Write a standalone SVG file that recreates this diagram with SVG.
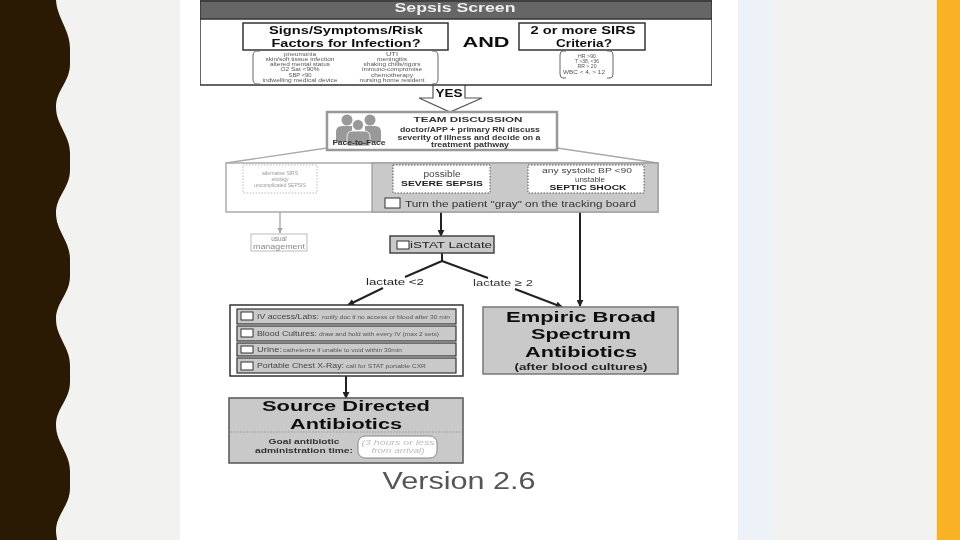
<svg xmlns="http://www.w3.org/2000/svg" width="960" height="540" viewBox="0 0 960 540">
<style>
text{font-family:"Liberation Sans",Arial,sans-serif;text-anchor:middle;fill:#111}
.b{font-weight:700}
.l{text-anchor:start}
.box{fill:#fff;stroke:#333;stroke-width:1.5}
.gbox{fill:#c9c9c9;stroke:#555;stroke-width:1.5}
.dot{fill:#fff;stroke:#888;stroke-width:1;stroke-dasharray:1.5 1.5}
.chk{fill:#fff;stroke:#333;stroke-width:1}
.row{fill:#c9c9c9;stroke:#333;stroke-width:1.2}
.faint{fill:#999}
.small{fill:#555;font-size:5.5px}
.k{fill:none;stroke:#222;stroke-width:2}
.g{fill:none;stroke:#aaa;stroke-width:1.4}
.p{fill:#999}
</style>
<defs>
<filter id="soft" x="0" y="0" width="1" height="1"><feGaussianBlur stdDeviation="0.5"/></filter>
<marker id="ak" viewBox="0 0 8 8" refX="7" refY="4" markerWidth="3.500" markerHeight="3.500" orient="auto"><path d="M0 0L8 4L0 8z" fill="#222"/></marker>
<marker id="ag" viewBox="0 0 8 8" refX="7" refY="4" markerWidth="4" markerHeight="4" orient="auto"><path d="M0 0L8 4L0 8z" fill="#aaa"/></marker>
</defs>

<g id="background">
<rect width="960" height="540" fill="#f2f2f0"/>
<rect x="180" width="558" height="540" fill="#fff"/>
<rect x="738" width="35" height="540" fill="#edf1f8"/>
<rect x="936" width="2" height="540" fill="#f8e6b0"/>
<rect x="937" width="23" height="540" fill="#f9b224"/>
<path fill="#2b1a03" d="M0 0H56C57 18 70 30 70 48V64C70 82 56 90 56 107C56 125 70 135 70 153V170C70 188 56 196 56 213C56 231 70 241 70 259V276C70 294 56 302 56 319C56 337 70 347 70 365V382C70 400 56 408 56 425C56 443 70 453 70 471V488C70 506 56 514 56 531C56 535 57 538 57 540H0Z"/>
</g>

<g filter="url(#soft)">
<g id="connectors">
<path class="g" d="M327 148L226 163M557 148L658 163"/>
<path class="g" d="M441 193V212M580 193V212"/>
<path class="g" d="M280 193V233" marker-end="url(#ag)"/>
<path class="k" d="M441 212V236" marker-end="url(#ak)"/>
<path class="k" d="M580 212V306" marker-end="url(#ak)"/>
<path class="k" d="M442 253V261L405 277M442 261L488 278"/>
<path class="k" d="M383 288L348 305" marker-end="url(#ak)"/>
<path class="k" d="M515 289L562 307" marker-end="url(#ak)"/>
<path class="k" d="M346 376V398" marker-end="url(#ak)"/>
<path d="M433 85V98H419L450 112L482 98H465V85" fill="#fff" stroke="#555" stroke-width="1.2"/>
</g>

<g id="sepsis-screen">
<rect x="200" y="1" width="512" height="84" class="box"/>
<rect x="200" y="1" width="512" height="18" fill="#666" stroke="#333" stroke-width="1.5"/>
<text x="455" y="11.500" class="b" font-size="13" style="fill:#eee" textLength="121" lengthAdjust="spacingAndGlyphs">Sepsis Screen</text>
</g>
<g id="signs">
<rect x="243" y="23" width="205" height="27" class="box"/>
<text x="346" y="33.500" class="b" font-size="11" textLength="154" lengthAdjust="spacingAndGlyphs">Signs/Symptoms/Risk</text>
<text x="346" y="46.500" class="b" font-size="11" textLength="149" lengthAdjust="spacingAndGlyphs">Factors for Infection?</text>
<path d="M260 51H257Q253 51 253 56V79Q253 84 257 84H260M432 51H434Q438 51 438 56V79Q438 84 434 84H432" fill="none" stroke="#666"/>
<text class="small" x="300" y="55.500" textLength="32" lengthAdjust="spacingAndGlyphs">pneumonia</text>
<text class="small" x="300" y="61" textLength="69" lengthAdjust="spacingAndGlyphs">skin/soft tissue infection</text>
<text class="small" x="300" y="66" textLength="60" lengthAdjust="spacingAndGlyphs">altered mental status</text>
<text class="small" x="300" y="71" textLength="39" lengthAdjust="spacingAndGlyphs">O2 Sat &lt;90%</text>
<text class="small" x="300" y="77" textLength="23" lengthAdjust="spacingAndGlyphs">SBP &lt;90</text>
<text class="small" x="300" y="82" textLength="75" lengthAdjust="spacingAndGlyphs">indwelling medical device</text>
<text class="small" x="392" y="55.500" textLength="12" lengthAdjust="spacingAndGlyphs">UTI</text>
<text class="small" x="392" y="61" textLength="30" lengthAdjust="spacingAndGlyphs">meningitis</text>
<text class="small" x="392" y="66" textLength="57" lengthAdjust="spacingAndGlyphs">shaking chills/rigors</text>
<text class="small" x="392" y="71" textLength="60" lengthAdjust="spacingAndGlyphs">immuno-compromise</text>
<text class="small" x="392" y="77" textLength="42" lengthAdjust="spacingAndGlyphs">chemotherapy</text>
<text class="small" x="392" y="82" textLength="65" lengthAdjust="spacingAndGlyphs">nursing home resident</text>
</g>
<g id="and"><text x="486" y="47" class="b" font-size="15" textLength="47" lengthAdjust="spacingAndGlyphs">AND</text></g>
<g id="sirs">
<rect x="519" y="23" width="126" height="27" class="box"/>
<text x="583" y="33.500" class="b" font-size="11" textLength="105" lengthAdjust="spacingAndGlyphs">2 or more SIRS</text>
<text x="584" y="46.500" class="b" font-size="11" textLength="56" lengthAdjust="spacingAndGlyphs">Criteria?</text>
<path d="M566 51H563Q560 51 560 55V74Q560 78 563 78H566M607 51H610Q613 51 613 55V74Q613 78 610 78H607" fill="none" stroke="#666"/>
<text class="small" x="587" y="57.500" font-size="5" textLength="18" lengthAdjust="spacingAndGlyphs">HR &gt;90</text>
<text class="small" x="587" y="62.500" textLength="24" lengthAdjust="spacingAndGlyphs">T &gt;38, &lt;36</text>
<text class="small" x="587" y="68" textLength="19" lengthAdjust="spacingAndGlyphs">RR &gt; 20</text>
<text class="small" x="584" y="73.500" textLength="42" lengthAdjust="spacingAndGlyphs">WBC &lt; 4, &gt; 12</text>
</g>
<g id="yes"><text x="449" y="96.500" class="b" font-size="10" textLength="27" lengthAdjust="spacingAndGlyphs">YES</text></g>

<g id="team-discussion">
<rect x="327" y="112" width="230" height="38" fill="#fff" stroke="#999" stroke-width="2.500"/>
<circle class="p" cx="347" cy="120" r="5.500"/><circle class="p" cx="370" cy="120" r="5.500"/>
<path class="p" d="M336 142V132Q336 126 342 126H352V142ZM381 142V132Q381 126 375 126H365V142Z"/>
<circle cx="358" cy="125" r="5.500" class="p" stroke="#fff" stroke-width=".8"/>
<path class="p" d="M347 146V137Q347 131 353 131H364Q370 131 370 137V146Z" stroke="#fff" stroke-width=".8"/>
<text x="359" y="145" class="b" font-size="6.500" style="fill:#333" textLength="53" lengthAdjust="spacingAndGlyphs">Face-to-Face</text>
<text x="468" y="122" class="b" font-size="8" style="fill:#333" textLength="109" lengthAdjust="spacingAndGlyphs">TEAM DISCUSSION</text>
<text x="470" y="131.500" class="b" font-size="6.500" style="fill:#333" textLength="140" lengthAdjust="spacingAndGlyphs">doctor/APP + primary RN discuss</text>
<text x="469" y="139.500" class="b" font-size="6.500" style="fill:#333" textLength="143" lengthAdjust="spacingAndGlyphs">severity of illness and decide on a</text>
<text x="470" y="146.500" class="b" font-size="6.500" style="fill:#333" textLength="78" lengthAdjust="spacingAndGlyphs">treatment pathway</text>
</g>

<g id="pathway-panel">
<rect x="226" y="163" width="432" height="49" fill="#fff" stroke="#aaa" stroke-width="1.500"/>
<rect x="372" y="163" width="286" height="49" fill="#c9c9c9" stroke="#999" stroke-width="1.200"/>
</g>
<g id="alt-sirs">
<rect x="243" y="165" width="74" height="28" class="dot" style="stroke:#bbb"/>
<text class="faint" x="280" y="175" font-size="5">alternative SIRS</text>
<text class="faint" x="280" y="181" font-size="5">etiology</text>
<text class="faint" x="280" y="187" font-size="5">uncomplicated SEPSIS</text>
</g>
<g id="severe-sepsis">
<rect x="393" y="165" width="97" height="28" class="dot" style="stroke:#555"/>
<text x="442" y="177" font-size="8.500" style="fill:#444" textLength="37" lengthAdjust="spacingAndGlyphs">possible</text>
<text x="442" y="186" class="b" font-size="8" style="fill:#222" textLength="82" lengthAdjust="spacingAndGlyphs">SEVERE SEPSIS</text>
</g>
<g id="septic-shock">
<rect x="528" y="165" width="116" height="28" class="dot" style="stroke:#555"/>
<text x="587" y="173" font-size="8" style="fill:#444" textLength="90" lengthAdjust="spacingAndGlyphs">any systolic BP &lt;90</text>
<text x="590" y="182" font-size="8" style="fill:#444" textLength="30" lengthAdjust="spacingAndGlyphs">unstable</text>
<text x="588" y="190" class="b" font-size="8" style="fill:#222" textLength="77" lengthAdjust="spacingAndGlyphs">SEPTIC SHOCK</text>
</g>
<g id="turn-gray">
<rect x="385" y="198" width="15" height="10" class="chk"/>
<text x="405" y="207" class="l" font-size="9.500" style="fill:#333" textLength="231" lengthAdjust="spacingAndGlyphs">Turn the patient "gray" on the tracking board</text>
</g>

<g id="usual-management">
<rect x="251" y="234" width="56" height="17" fill="#fff" stroke="#bbb"/>
<text class="faint" x="279" y="241" font-size="6.500" style="fill:#888">usual</text>
<text class="faint" x="279" y="249" font-size="6.500" style="fill:#888" textLength="52" lengthAdjust="spacingAndGlyphs">management</text>
</g>
<g id="istat-lactate">
<rect x="390" y="236" width="104" height="17" class="gbox" style="stroke:#444"/>
<rect x="397" y="241" width="12" height="8" class="chk"/>
<text x="410" y="247.500" class="l" font-size="9.500" style="fill:#222" textLength="82" lengthAdjust="spacingAndGlyphs">iSTAT Lactate</text>
</g>
<g id="lactate-labels">
<text x="395" y="285" font-size="9" style="fill:#222" textLength="58" lengthAdjust="spacingAndGlyphs">lactate &lt;2</text>
<text x="503" y="286" font-size="9" style="fill:#333" textLength="60" lengthAdjust="spacingAndGlyphs">lactate ≥ 2</text>
</g>

<g id="workup">
<rect x="230" y="305" width="233" height="71" class="box"/>
<rect x="237" y="309" width="219" height="15" class="row"/>
<rect x="237" y="326" width="219" height="15" class="row"/>
<rect x="237" y="343" width="219" height="13" class="row"/>
<rect x="237" y="358" width="219" height="15" class="row"/>
<rect x="241" y="312" width="12" height="8" class="chk"/>
<rect x="241" y="329" width="12" height="8" class="chk"/>
<rect x="241" y="346" width="12" height="7" class="chk"/>
<rect x="241" y="362" width="12" height="8" class="chk"/>
<text x="257" y="319" class="l" font-size="6.500" style="fill:#444" textLength="62" lengthAdjust="spacingAndGlyphs">IV access/Labs:</text>
<text x="322" y="319" class="l" font-size="4.500" style="fill:#555" textLength="128" lengthAdjust="spacingAndGlyphs">notify doc if no access or blood after 30 min</text>
<text x="257" y="336" class="l" font-size="6.500" style="fill:#444" textLength="60" lengthAdjust="spacingAndGlyphs">Blood Cultures:</text>
<text x="319" y="336" class="l" font-size="4.500" style="fill:#555" textLength="120" lengthAdjust="spacingAndGlyphs">draw and hold with every IV (max 2 sets)</text>
<text x="257" y="352" class="l" font-size="6.500" style="fill:#444" textLength="25" lengthAdjust="spacingAndGlyphs">Urine:</text>
<text x="283" y="352" class="l" font-size="4.500" style="fill:#555" textLength="119" lengthAdjust="spacingAndGlyphs">catheterize if unable to void within 30min</text>
<text x="257" y="368" class="l" font-size="6.500" style="fill:#444" textLength="87" lengthAdjust="spacingAndGlyphs">Portable Chest X-Ray:</text>
<text x="346" y="368" class="l" font-size="4.500" style="fill:#555" textLength="80" lengthAdjust="spacingAndGlyphs">call for STAT portable CXR</text>
</g>

<g id="empiric">
<rect x="483" y="307" width="195" height="67" class="gbox" style="stroke:#777"/>
<text x="581" y="322" class="b" font-size="15" textLength="150" lengthAdjust="spacingAndGlyphs">Empiric Broad</text>
<text x="581" y="339" class="b" font-size="15" textLength="100" lengthAdjust="spacingAndGlyphs">Spectrum</text>
<text x="581" y="357" class="b" font-size="15" textLength="112" lengthAdjust="spacingAndGlyphs">Antibiotics</text>
<text x="581" y="370" class="b" font-size="9" style="fill:#222" textLength="133" lengthAdjust="spacingAndGlyphs">(after blood cultures)</text>
</g>

<g id="source-directed">
<rect x="229" y="398" width="234" height="65" class="gbox"/>
<line x1="231" y1="432" x2="461" y2="432" stroke="#999" stroke-dasharray="1.500 1.500"/>
<text x="346" y="411" class="b" font-size="15" textLength="168" lengthAdjust="spacingAndGlyphs">Source Directed</text>
<text x="346" y="429" class="b" font-size="15" textLength="112" lengthAdjust="spacingAndGlyphs">Antibiotics</text>
<text x="304" y="444" class="b" font-size="7.500" style="fill:#333" textLength="71" lengthAdjust="spacingAndGlyphs">Goal antibiotic</text>
<text x="304" y="453" class="b" font-size="7.500" style="fill:#333" textLength="98" lengthAdjust="spacingAndGlyphs">administration time:</text>
<rect x="358" y="436" width="79" height="22" rx="7" fill="#fff" stroke="#888"/>
<text x="398" y="445" font-size="7.500" font-style="italic" style="fill:#bbb" textLength="73" lengthAdjust="spacingAndGlyphs">(3 hours or less</text>
<text x="398" y="453" font-size="7.500" font-style="italic" style="fill:#bbb" textLength="53" lengthAdjust="spacingAndGlyphs">from arrival)</text>
</g>

<g id="version"><text x="459" y="489" font-size="23" style="fill:#555" textLength="153" lengthAdjust="spacingAndGlyphs">Version 2.6</text></g>
</g>
</svg>
